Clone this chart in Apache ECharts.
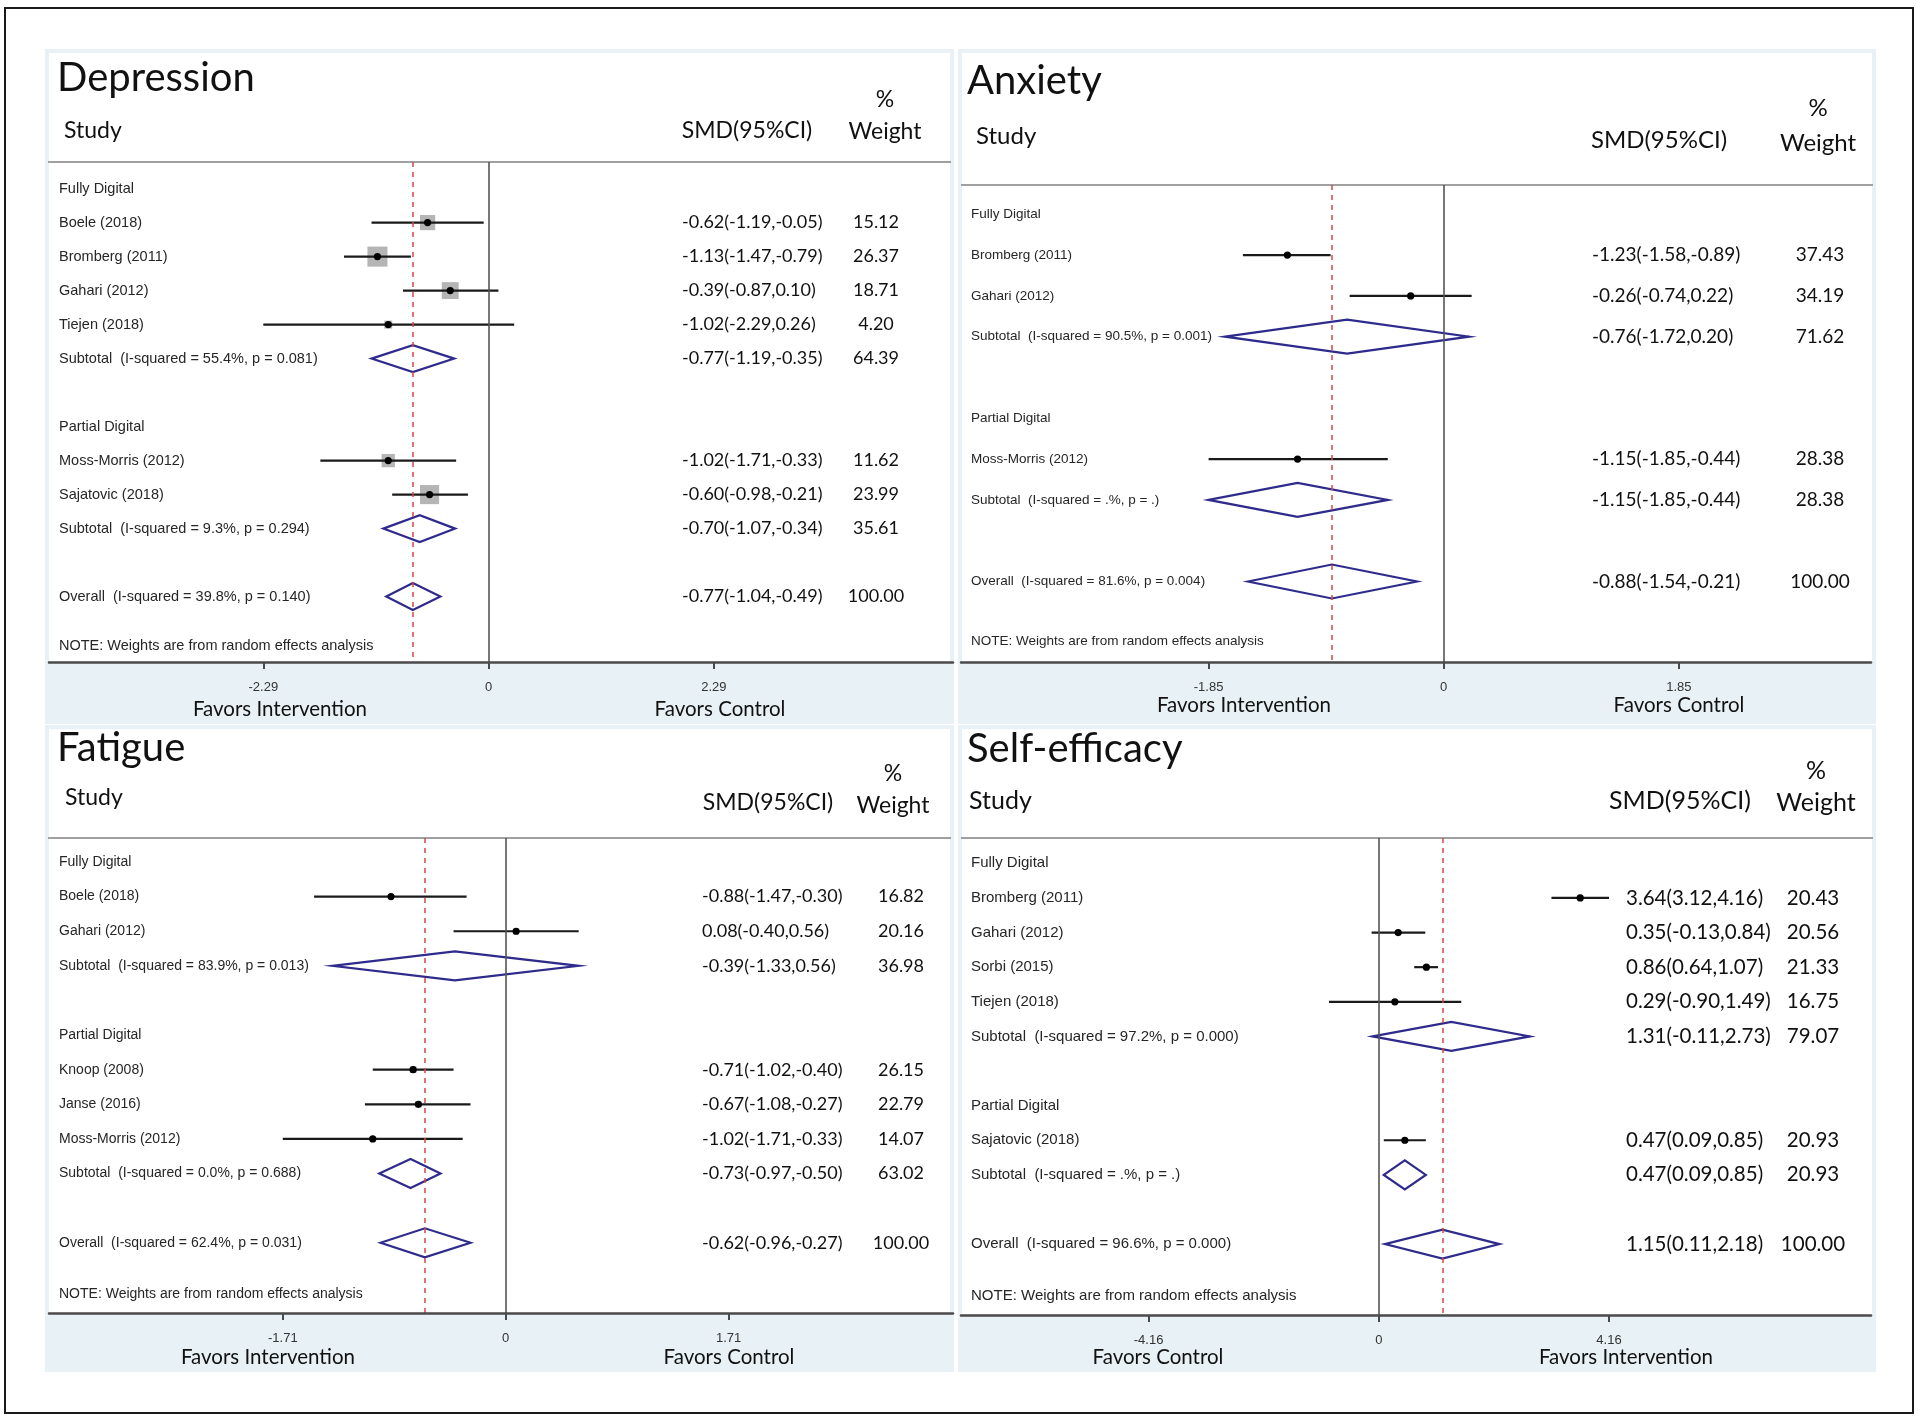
<!DOCTYPE html>
<html><head><meta charset="utf-8">
<script src="https://cdn.jsdelivr.net/npm/echarts@6/dist/echarts.min.js"></script>
<style>html,body{margin:0;padding:0;background:#fff}#c{width:1920px;height:1423px}</style>
</head><body><div id="c"></div>
<script>
// ---------- Depression ----------
const depLabels = ['Fully Digital','Boele (2018)','Bromberg (2011)','Gahari (2012)','Tiejen (2018)','Subtotal  (I-squared = 55.4%, p = 0.081)','','Partial Digital','Moss-Morris (2012)','Sajatovic (2018)','Subtotal  (I-squared = 9.3%, p = 0.294)','','Overall  (I-squared = 39.8%, p = 0.140)'];
const depTypes  = ['h','s','s','s','s','d','b','h','s','s','d','b','o'];
const depEst    = [null,-0.62,-1.13,-0.39,-1.02,-0.77,null,null,-1.02,-0.60,-0.70,null,-0.77];
const depLow    = [null,-1.19,-1.47,-0.87,-2.29,-1.19,null,null,-1.71,-0.98,-1.07,null,-1.04];
const depHigh   = [null,-0.05,-0.79,0.10,0.26,-0.35,null,null,-0.33,-0.21,-0.34,null,-0.49];
const depWeight = [null,15.12,26.37,18.71,4.20,64.39,null,null,11.62,23.99,35.61,null,100.00];
const depTicks  = [-2.29,0,2.29];

// ---------- Anxiety ----------
const anxLabels = ['Fully Digital','Bromberg (2011)','Gahari (2012)','Subtotal  (I-squared = 90.5%, p = 0.001)','','Partial Digital','Moss-Morris (2012)','Subtotal  (I-squared = .%, p = .)','','Overall  (I-squared = 81.6%, p = 0.004)'];
const anxTypes  = ['h','s','s','d','b','h','s','d','b','o'];
const anxEst    = [null,-1.23,-0.26,-0.76,null,null,-1.15,-1.15,null,-0.88];
const anxLow    = [null,-1.58,-0.74,-1.72,null,null,-1.85,-1.85,null,-1.54];
const anxHigh   = [null,-0.89,0.22,0.20,null,null,-0.44,-0.44,null,-0.21];
const anxWeight = [null,37.43,34.19,71.62,null,null,28.38,28.38,null,100.00];
const anxTicks  = [-1.85,0,1.85];

// ---------- Fatigue ----------
const fatLabels = ['Fully Digital','Boele (2018)','Gahari (2012)','Subtotal  (I-squared = 83.9%, p = 0.013)','','Partial Digital','Knoop (2008)','Janse (2016)','Moss-Morris (2012)','Subtotal  (I-squared = 0.0%, p = 0.688)','','Overall  (I-squared = 62.4%, p = 0.031)'];
const fatTypes  = ['h','s','s','d','b','h','s','s','s','d','b','o'];
const fatEst    = [null,-0.88,0.08,-0.39,null,null,-0.71,-0.67,-1.02,-0.73,null,-0.62];
const fatLow    = [null,-1.47,-0.40,-1.33,null,null,-1.02,-1.08,-1.71,-0.97,null,-0.96];
const fatHigh   = [null,-0.30,0.56,0.56,null,null,-0.40,-0.27,-0.33,-0.50,null,-0.27];
const fatWeight = [null,16.82,20.16,36.98,null,null,26.15,22.79,14.07,63.02,null,100.00];
const fatTicks  = [-1.71,0,1.71];

// ---------- Self-efficacy ----------
const seLabels = ['Fully Digital','Bromberg (2011)','Gahari (2012)','Sorbi (2015)','Tiejen (2018)','Subtotal  (I-squared = 97.2%, p = 0.000)','','Partial Digital','Sajatovic (2018)','Subtotal  (I-squared = .%, p = .)','','Overall  (I-squared = 96.6%, p = 0.000)'];
const seTypes  = ['h','s','s','s','s','d','b','h','s','d','b','o'];
const seEst    = [null,3.64,0.35,0.86,0.29,1.31,null,null,0.47,0.47,null,1.15];
const seLow    = [null,3.12,-0.13,0.64,-0.90,-0.11,null,null,0.09,0.09,null,0.11];
const seHigh   = [null,4.16,0.84,1.07,1.49,2.73,null,null,0.85,0.85,null,2.18];
const seWeight = [null,20.43,20.56,21.33,16.75,79.07,null,null,20.93,20.93,null,100.00];
const seTicks  = [-4.16,0,4.16];

const noteText = 'NOTE: Weights are from random effects analysis';

const panels = [
  {title:'Depression', labels:depLabels, types:depTypes, est:depEst, lo:depLow, hi:depHigh, wt:depWeight, ticks:depTicks,
   favL:'Favors Intervention', favR:'Favors Control',
   L:{bg:[45,49,909,675], left:49, right:953, top:162, bottom:662, zeroX:488.6, tickX:713.9, row0:188.6, step:34.0, note:13.45,
      smdX:682, wtX:876, dH:27, sq:3.9, labSize:14.5, numSize:18, headSize:23,
      title:[57,78], study:[64,131], smdH:[747,131], pct:[885,100], wH:[885,132], fav:[709,280,720]}},
  {title:'Anxiety', labels:anxLabels, types:anxTypes, est:anxEst, lo:anxLow, hi:anxHigh, wt:anxWeight, ticks:anxTicks,
   favL:'Favors Intervention', favR:'Favors Control',
   L:{bg:[958,49,918,675], left:961, right:1871, top:185, bottom:662, zeroX:1443.7, tickX:1678.8, row0:214.3, step:40.8, note:10.47,
      smdX:1592, wtX:1820, dH:34, sq:0, labSize:13.5, numSize:19, headSize:24,
      title:[967,81], study:[976,136], smdH:[1659,140], pct:[1818,108], wH:[1818,143], fav:[705,1244,1679]}},
  {title:'Fatigue', labels:fatLabels, types:fatTypes, est:fatEst, lo:fatLow, hi:fatHigh, wt:fatWeight, ticks:fatTicks,
   favL:'Favors Intervention', favR:'Favors Control',
   L:{bg:[45,725,909,647], left:49, right:953, top:838, bottom:1313, zeroX:505.7, tickX:728.6, row0:862, step:34.62, note:12.49,
      smdX:702, wtX:901, dH:29, sq:1.3, labSize:14, numSize:18, headSize:23,
      title:[57,748], study:[65,798], smdH:[768,803], pct:[893,774], wH:[893,806], fav:[1357,268,729]}},
  {title:'Self-efficacy', labels:seLabels, types:seTypes, est:seEst, lo:seLow, hi:seHigh, wt:seWeight, ticks:seTicks,
   favL:'Favors Control', favR:'Favors Intervention',
   L:{bg:[958,725,918,647], left:961, right:1871, top:838, bottom:1315, zeroX:1378.8, tickX:1609, row0:863.3, step:34.62, note:12.5,
      smdX:1626, wtX:1813, dH:29, sq:0, labSize:15, numSize:20.5, headSize:25,
      title:[967,749], study:[969,801], smdH:[1680,801], pct:[1816,771], wH:[1816,803], fav:[1357,1158,1626]}}
];

const HEAD_FONT = 'Lato, "Open Sans", sans-serif';
const SMALL_FONT = '"Liberation Sans", Arial, sans-serif';

const grids = [], xAxes = [], yAxes = [], series = [];
const graphics = [
  {type:'rect', z:-20, shape:{x:5, y:8, width:1908, height:1405}, style:{fill:'#ffffff', stroke:'#1a1a1a', lineWidth:2}}
];

function txt(text, x, y, size, align) {
  return {type:'text', z:20, style:{text:text, x:x, y:y, fill:'#111', fontSize:size, fontFamily:HEAD_FONT,
    align:align, verticalAlign:'middle', textAlign:align, textVerticalAlign:'middle'}};
}

panels.forEach(function (p, i) {
  const L = p.L;
  const t = p.ticks[2];
  const ppu = (L.tickX - L.zeroX) / t;
  const xmin = (L.left - L.zeroX) / ppu, xmax = (L.right - L.zeroX) / ppu;
  const ymin = (L.top - L.row0) / L.step, ymax = (L.bottom - L.row0) / L.step;
  const overall = p.est[p.types.indexOf('o')];

  grids.push({left:L.left, top:L.top, width:L.right - L.left, height:L.bottom - L.top, containLabel:false, outerBoundsMode:'none'});
  xAxes.push({gridIndex:i, type:'value', min:xmin, max:xmax, position:'bottom', z:5,
    axisLine:{show:true, onZero:false, lineStyle:{color:'#4a4a4a', width:2.5}},
    axisTick:{show:true, inside:false, length:7, customValues:p.ticks, lineStyle:{color:'#4a4a4a', width:2}},
    axisLabel:{show:true, customValues:p.ticks, margin:19, fontSize:13, color:'#333', fontFamily:SMALL_FONT,
      formatter:function (v) { return v === 0 ? '0' : v.toFixed(2); }},
    splitLine:{show:false}});
  yAxes.push({gridIndex:i, type:'value', inverse:true, min:ymin, max:ymax, show:false});

  // backgrounds
  const bg = L.bg;
  graphics.push({type:'rect', z:-10, shape:{x:bg[0], y:bg[1], width:bg[2], height:bg[3]}, style:{fill:'#e8f1f5'}});
  graphics.push({type:'rect', z:-9, shape:{x:bg[0] + 4, y:bg[1] + 4, width:bg[2] - 8, height:L.bottom - bg[1] - 4}, style:{fill:'#ffffff'}});
  graphics.push({type:'line', z:-8, shape:{x1:bg[0] + 3, y1:L.top, x2:bg[0] + bg[2] - 3, y2:L.top}, style:{stroke:'#a0a0a0', lineWidth:2}});
  // header texts
  graphics.push(txt(p.title, L.title[0], L.title[1], 40, 'left'));
  graphics.push(txt('Study', L.study[0], L.study[1], L.headSize, 'left'));
  graphics.push(txt('SMD(95%CI)', L.smdH[0], L.smdH[1], L.headSize, 'center'));
  graphics.push(txt('%', L.pct[0], L.pct[1], L.headSize, 'center'));
  graphics.push(txt('Weight', L.wH[0], L.wH[1], L.headSize, 'center'));
  graphics.push(txt(p.favL, L.fav[1], L.fav[0], 20.5, 'center'));
  graphics.push(txt(p.favR, L.fav[2], L.fav[0], 20.5, 'center'));

  // study estimates with CIs
  const studyData = [];
  const diaData = [];
  p.types.forEach(function (tp, k) {
    if (tp === 's') studyData.push([p.est[k], k, p.lo[k], p.hi[k], p.wt[k]]);
    if (tp === 'd' || tp === 'o') diaData.push([p.est[k], k, p.lo[k], p.hi[k]]);
  });
  series.push({type:'custom', xAxisIndex:i, yAxisIndex:i, z:4, clip:false, silent:true,
    encode:{x:[0, 2, 3], y:1}, data:studyData,
    renderItem:function (params, api) {
      const c = api.coord([api.value(0), api.value(1)]);
      const l = api.coord([api.value(2), api.value(1)]);
      const h = api.coord([api.value(3), api.value(1)]);
      const s = L.sq * Math.sqrt(api.value(4));
      const kids = [];
      if (s > 0) kids.push({type:'rect', shape:{x:c[0] - s / 2, y:c[1] - s / 2, width:s, height:s}, style:{fill:'#b5b5b5'}});
      kids.push({type:'line', shape:{x1:l[0], y1:l[1], x2:h[0], y2:h[1]}, style:{stroke:'#1a1a1a', lineWidth:2.2}});
      kids.push({type:'circle', shape:{cx:c[0], cy:c[1], r:3.6}, style:{fill:'#000'}});
      return {type:'group', children:kids};
    }});
  // diamonds + reference lines
  series.push({type:'custom', xAxisIndex:i, yAxisIndex:i, z:4, clip:false, silent:true,
    encode:{x:[0, 2, 3], y:1}, data:diaData,
    renderItem:function (params, api) {
      const c = api.coord([api.value(0), api.value(1)]);
      const l = api.coord([api.value(2), api.value(1)]);
      const h = api.coord([api.value(3), api.value(1)]);
      const d = L.dH / 2;
      return {type:'polygon', shape:{points:[[l[0], c[1]], [c[0], c[1] - d], [h[0], c[1]], [c[0], c[1] + d]]},
        style:{fill:'none', stroke:'#2e2b8c', lineWidth:2.2}};
    },
    markLine:{silent:true, symbol:'none', label:{show:false}, animation:false,
      data:[{xAxis:0, lineStyle:{color:'#555', type:'solid', width:1.6}},
            {xAxis:overall, lineStyle:{color:'#cf4a42', type:[5, 5], width:1.5}}]}});
  // row texts
  const rows = p.labels.map(function (_, k) { return [0, k]; });
  rows.push([0, L.note]);
  series.push({type:'custom', xAxisIndex:i, yAxisIndex:i, z:6, clip:false, silent:true,
    encode:{x:0, y:1}, data:rows,
    renderItem:function (params, api) {
      const k = params.dataIndex;
      const y = api.coord([0, api.value(1)])[1];
      const cs = params.coordSys;
      const kids = [];
      const lab = k < p.labels.length ? p.labels[k] : noteText;
      if (lab) kids.push({type:'text', style:{text:lab, x:cs.x + 10, y:y, fill:'#262626', fontSize:L.labSize, fontFamily:SMALL_FONT,
        align:'left', verticalAlign:'middle', textAlign:'left', textVerticalAlign:'middle'}});
      const tp = p.types[k];
      if (tp === 's' || tp === 'd' || tp === 'o') {
        const smd = p.est[k].toFixed(2) + '(' + p.lo[k].toFixed(2) + ',' + p.hi[k].toFixed(2) + ')';
        kids.push({type:'text', style:{text:smd, x:L.smdX, y:y, fill:'#111', fontSize:L.numSize, fontFamily:HEAD_FONT,
          align:'left', verticalAlign:'middle', textAlign:'left', textVerticalAlign:'middle'}});
        kids.push({type:'text', style:{text:p.wt[k].toFixed(2), x:L.wtX, y:y, fill:'#111', fontSize:L.numSize, fontFamily:HEAD_FONT,
          align:'center', verticalAlign:'middle', textAlign:'center', textVerticalAlign:'middle'}});
      }
      return {type:'group', children:kids};
    }});
});

const chart = echarts.init(document.getElementById('c'), null, {renderer:'canvas', width:1920, height:1423});
chart.setOption({
  animation:false,
  backgroundColor:'#ffffff',
  grid:grids, xAxis:xAxes, yAxis:yAxes, series:series,
  graphic:{elements:graphics}
});
</script>
</body></html>
